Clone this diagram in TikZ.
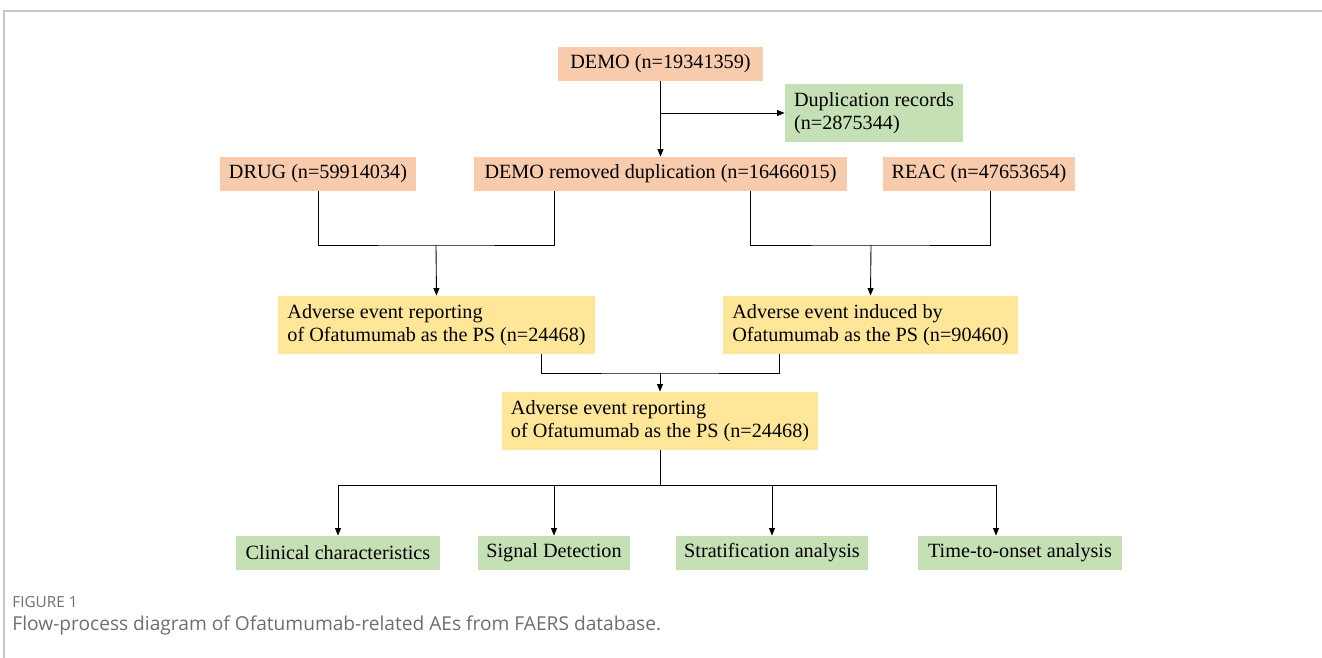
\documentclass[tikz,border=0pt]{standalone}
\usepackage{fontspec}
\setmainfont{Liberation Serif}
\newfontfamily\capfont{Open Sans}
\usetikzlibrary{arrows.meta,positioning,calc}
\definecolor{peach}{HTML}{F8CBAD}
\definecolor{lemon}{HTML}{FFE699}
\definecolor{sage}{HTML}{C5E0B4}
\definecolor{capgray}{HTML}{6E6E6E}
\definecolor{framegray}{HTML}{C8C8C8}
\tikzstyle{box}=[inner sep=0pt, minimum height=0.68cm, align=left, font=\fontsize{11.5}{13}\selectfont]
\tikzstyle{srcbox}=[box, fill=peach]
\tikzstyle{midbox}=[box, fill=lemon, minimum height=1.16cm]
\tikzstyle{resbox}=[box, fill=sage]
\tikzstyle{arr}=[-{Triangle[length=1.5mm,width=1.2mm]}]

\begin{document}
\begin{tikzpicture}[x=0.02cm, y=-0.02cm, line width=0.5pt]
        \useasboundingbox (0,0) rectangle (1322,658);
        \draw[framegray, line width=0.8pt] (1322,11) -- (4,11) -- (4,658);
        %
        \node[srcbox, minimum width=4.1cm] (demo) at (660.5,64) {DEMO (n=19341359)};
        \node[resbox, minimum width=3.56cm, minimum height=1.16cm] (dup) at (874,113) {Duplication records\\(n=2875344)};
        \node[srcbox, minimum width=3.92cm] (drug) at (318,174) {DRUG (n=59914034)};
        \node[srcbox, minimum width=7.46cm] (rem) at (660.5,174) {DEMO removed duplication (n=16466015)};
        \node[srcbox, minimum width=3.84cm] (reac) at (979,174) {REAC (n=47653654)};
        \node[midbox, minimum width=6.34cm] (ael) at (436.5,325) {Adverse event reporting\\of Ofatumumab as the PS (n=24468)};
        \node[midbox, minimum width=5.9cm] (aer) at (870.5,325) {Adverse event induced by\\Ofatumumab as the PS (n=90460)};
        \node[midbox, minimum width=6.32cm] (aem) at (660,421) {Adverse event reporting\\of Ofatumumab as the PS (n=24468)};
        \node[resbox, minimum width=4.08cm] (clin) at (338,553) {Clinical characteristics};
        \node[resbox, minimum width=3.04cm] (sig) at (554,553) {Signal Detection};
        \node[resbox, minimum width=3.84cm] (strat) at (772,553) {Stratification analysis};
        \node[resbox, minimum width=4.08cm] (tto) at (1020,553) {Time-to-onset analysis};
        %
        \coordinate (jd) at (660,113);
        \coordinate (jl) at (436,245);
        \coordinate (jr) at (871,245);
        \coordinate (jm) at (660,373);
        \coordinate (jb) at (660,485);
        %
        \draw[arr] (demo) -- (rem);
        \draw[arr] (jd) -- (dup.west);
        \draw (drug.south) |- (jl) -| ($(rem.south)+(-106,0)$);
        \draw[arr] (jl) -- (ael.north);
        \draw ($(rem.south)+(90,0)$) |- (jr) -| ($(reac.south)+(11,0)$);
        \draw[arr] (jr) -- (aer.north);
        \draw ($(ael.south)+(104.5,0)$) |- (jm) -| ($(aer.south)+(-91.5,0)$);
        \draw[arr] (jm) -- (aem.north);
        \draw (aem.south) -- (jb);
        \draw[arr] (jb) -| (clin.north);
        \draw[arr] (jb) -| (sig.north);
        \draw[arr] (jb) -| (strat.north);
        \draw[arr] (jb) -| ($(tto.north)+(-24,0)$);
        %
        \node[anchor=base west, inner sep=0pt, text=capgray, font=\capfont\fontsize{8.7}{10}\selectfont] (fig) at (12,607) {FIGURE 1};
        \node[anchor=base west, inner sep=0pt, text=capgray, font=\capfont\fontsize{10.9}{13}\selectfont] (cap) at (12,630) {Flow-process diagram of Ofatumumab-related AEs from FAERS database.};
\end{tikzpicture}
\end{document}
